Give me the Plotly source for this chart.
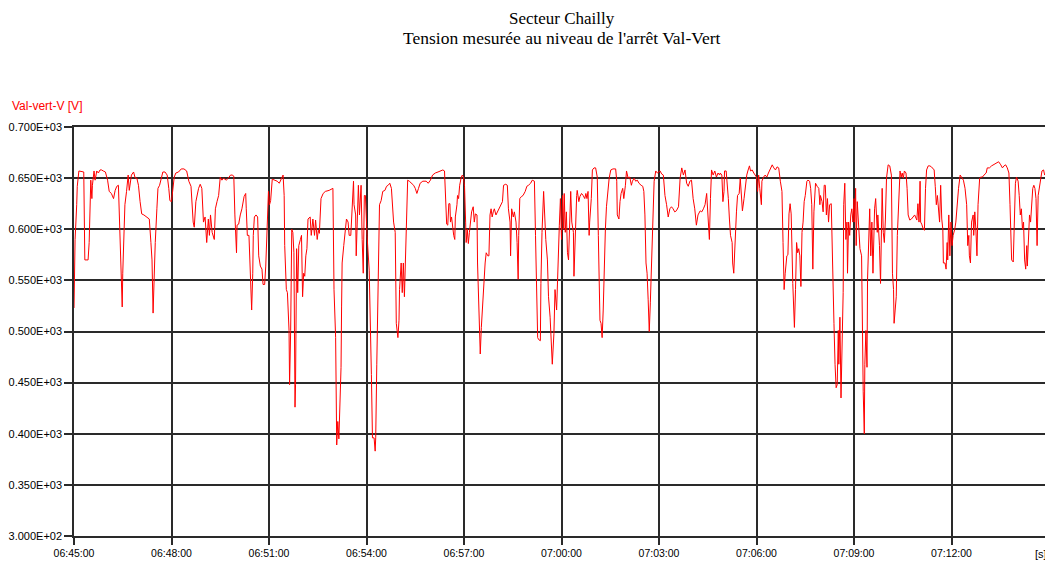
import plotly.graph_objects as go

# elapsed seconds since 06:45:00
seconds = [
    0, 2, 5, 6, 9, 18, 20, 26, 28, 30, 31, 33, 34, 37, 39, 42, 45, 48, 51, 54, 58, 62, 65, 69, 73, 76, 79, 82,
    85, 88, 89, 90, 92, 94, 97, 100, 102, 105, 106, 110, 113, 116, 119, 122, 125, 129, 134, 139, 142, 144, 146,
    148, 150, 153, 155, 158, 160, 164, 168, 172, 175, 177, 180, 182, 185, 188, 193, 198, 203, 208, 212, 216, 218,
    220, 222, 225, 230, 233, 236, 239, 242, 245, 248, 250, 252, 255, 259, 261, 264, 267, 270, 273, 276, 281, 285,
    289,
    292, 295, 297, 300, 301, 304, 307, 310, 314, 317, 318, 320, 323, 326, 328, 330, 331, 333, 336, 339, 341, 344,
    347, 349, 352, 354, 357, 359, 361, 363, 366, 371, 375, 379, 383, 386, 388, 389, 392, 394, 397, 398, 400, 402,
    404, 406, 408, 409, 411, 413, 415, 416, 418, 420, 422, 424, 426, 428, 430, 432, 436, 438, 441, 444, 446, 449,
    451, 453, 456, 460, 464, 471, 476, 478, 480, 483, 485, 487, 489, 491, 493, 494, 495, 498, 500, 503, 506, 508,
    511, 514, 516, 517, 520, 521, 523, 525, 527, 530, 532, 534, 536, 538, 540, 541, 545, 547, 549, 551, 554, 556,
    557, 559, 561, 562, 564, 567, 570, 574, 577, 580, 583, 586, 590, 593, 595, 598, 600,
    601, 604, 606, 608, 610, 612, 614, 616, 619, 623, 627, 630, 633, 636, 639, 644, 650, 654, 658, 662, 667, 672,
    676, 681, 684, 686, 688, 690, 692, 694, 695, 697, 699, 701, 703, 704, 707, 708, 710, 712, 715, 717, 719, 721,
    723, 724, 726, 728, 730, 732, 734, 737, 739, 741, 744, 745, 748, 750, 752, 755, 757, 759, 761, 764, 766, 768,
    770, 772, 774, 776, 779, 782, 785, 789, 791, 793, 797, 800, 802, 805, 806, 808, 811, 813, 816, 818, 820, 821,
    823, 826, 829, 833, 836, 839, 843, 846, 850, 852, 854, 856, 858, 861, 862, 864, 867, 869, 871, 874, 876, 879,
    881, 883, 886, 888, 891, 893, 896, 898,
    899, 900, 902, 904, 905, 907, 909, 911, 913, 915, 917, 919, 922, 923, 925, 928, 929, 932, 934, 937, 940, 943,
    945, 947, 949, 951, 952, 955, 957, 960, 963, 966, 968, 969, 971, 973, 975, 977, 979, 981, 983, 986, 988, 991,
    995, 1000, 1002, 1003, 1006, 1008, 1010, 1013, 1015, 1018, 1020, 1023, 1026, 1029, 1031, 1034, 1037, 1040,
    1043, 1047, 1050, 1052, 1054, 1056, 1058, 1060, 1062, 1064, 1066, 1068, 1071, 1074, 1077, 1082, 1085, 1088,
    1091, 1094, 1097, 1100, 1103, 1106, 1109, 1112, 1116, 1119, 1122, 1125, 1128, 1131, 1134, 1137, 1140, 1143,
    1146, 1149, 1152, 1156, 1159, 1162, 1165, 1168, 1171, 1173, 1175, 1177, 1180, 1183, 1186, 1189, 1192,
    1193, 1196, 1198, 1200, 1201, 1204, 1206, 1208, 1210, 1212, 1215, 1216, 1218, 1221, 1223, 1225, 1228, 1230,
    1232, 1234, 1237, 1239, 1242, 1244, 1247, 1249, 1252, 1255, 1258, 1260, 1262, 1264, 1266, 1269, 1270, 1273,
    1276, 1279, 1282, 1285, 1289, 1292, 1295, 1298, 1301, 1304, 1307, 1309, 1311, 1313, 1316, 1318, 1320, 1322,
    1324, 1327, 1329, 1330, 1332, 1334, 1336, 1338, 1340, 1342, 1344, 1346, 1348, 1350, 1353, 1355, 1358, 1360,
    1362, 1364, 1366, 1369, 1372, 1375, 1377, 1378, 1381, 1383, 1385, 1387, 1389, 1391, 1393, 1395, 1398, 1399,
    1401, 1403, 1405, 1407, 1409, 1411, 1412, 1414, 1416, 1418, 1420, 1421, 1423, 1425, 1427, 1428, 1430, 1432,
    1434, 1436, 1438, 1440, 1441, 1443, 1444, 1446, 1449, 1451, 1454, 1455, 1457, 1459, 1460, 1462, 1464, 1465,
    1467, 1469, 1471, 1473, 1475, 1476, 1478, 1480, 1483, 1484, 1487, 1489, 1491, 1492, 1494, 1496, 1498,
    1500, 1503, 1506, 1509, 1510, 1511, 1513, 1514, 1516, 1518, 1520, 1522, 1524, 1525, 1527, 1529, 1531, 1533,
    1536, 1538, 1540, 1543, 1546, 1549, 1552, 1556, 1558, 1560, 1562, 1563, 1565, 1568, 1570, 1572, 1574, 1577,
    1580, 1583, 1588, 1590, 1592, 1594, 1596, 1598, 1600, 1602, 1604, 1605, 1608, 1610, 1612, 1613, 1615, 1617,
    1619, 1621, 1623, 1626, 1628, 1631, 1633, 1636, 1639, 1642, 1645, 1648, 1650, 1652, 1653, 1655, 1657, 1660,
    1661, 1663, 1665, 1667, 1669, 1671, 1672, 1674, 1677, 1680, 1684, 1686, 1690, 1694, 1698, 1703, 1707, 1711,
    1714, 1717, 1720, 1723, 1726, 1728, 1730, 1731, 1734, 1736, 1738, 1740, 1743, 1745, 1747, 1749, 1751, 1753,
    1755, 1757, 1759, 1760, 1762, 1764, 1766, 1768, 1770, 1772, 1774, 1776, 1778, 1780, 1783, 1785, 1787, 1790,
    1792, 1794, 1795, 1797, 1798, 1799,
]

voltage = [
    523, 590, 624, 642, 657, 656, 570, 570, 587, 630, 648, 630, 643, 657, 648, 657, 655, 658, 658, 657, 656, 648,
    637, 635, 630, 638, 642, 643, 590, 557, 524, 557, 590, 624, 637, 653, 638, 647, 653, 656, 650, 650, 643, 627,
    615, 614, 612, 610, 587, 570, 518, 570, 587, 620, 640, 643, 648, 656, 656, 653, 640, 628, 627, 638, 651, 655,
    656, 659, 659, 657, 647, 642, 624, 607, 602, 627, 640, 644, 640, 607, 612, 587, 610, 594, 614, 597, 590, 620,
    627, 633, 651, 648, 650, 648, 650, 653,
    653, 652, 614, 577, 604, 605, 614, 620, 632, 635, 620, 594, 594, 541, 521, 557, 594, 612, 614, 612, 574, 564,
    561, 546, 546, 564, 607, 637, 624, 628, 649, 648, 647, 645, 650, 653, 633, 584, 541, 538, 501, 448, 501, 600,
    597, 577, 426, 448, 581, 538, 584, 587, 590, 594, 534, 557, 554, 574, 581, 610, 612, 594, 610, 594, 609, 590,
    599, 596, 630, 635, 637, 638, 640, 640, 541, 494, 389, 412, 395, 431, 465, 524, 567, 584, 597, 610, 607, 594,
    594, 624, 647, 624, 614, 574, 604, 643, 614, 643, 590, 557, 633, 633, 607, 594, 560, 520, 458, 396, 396, 383,
    396, 468, 544, 594, 624, 628, 637, 638, 642, 643, 645, 640, 607, 597, 508, 494, 511,
    541, 567, 538, 567, 534, 574, 624, 648, 647, 645, 643, 640, 635, 640, 645, 647, 647, 645, 648, 653, 655, 656,
    657, 658, 657, 620, 605, 604, 625, 625, 607, 612, 600, 594, 590, 612, 624, 633, 630, 643, 651, 653, 651, 642,
    607, 587, 600, 586, 597, 607, 617, 622, 607, 615, 614, 567, 524, 478, 504, 534, 551, 567, 577, 574, 574, 614,
    620, 612, 617, 620, 614, 617, 620, 624, 627, 643, 644, 643, 620, 607, 574, 620, 612, 617, 607, 587, 551, 594,
    630, 632, 633, 637, 642, 643, 645, 648, 647, 594, 547, 494, 492, 491, 547, 597, 637, 607, 590, 570, 534, 514,
    494, 468, 498, 541, 521, 564, 604, 630,
    614, 590, 633, 600, 635, 597, 617, 577, 570, 617, 637, 607, 597, 554, 597, 633, 638, 627, 632, 635, 633, 630,
    635, 630, 637, 594, 607, 630, 658, 660, 660, 651, 594, 551, 511, 508, 494, 521, 567, 600, 622, 640, 650, 658,
    659, 659, 647, 614, 610, 627, 635, 640, 630, 643, 657, 650, 651, 643, 647, 650, 647, 648,
    645, 643, 642, 637, 614, 567, 557, 531, 500, 528, 557, 597, 647, 657, 655, 657, 654, 653,
    633, 624, 612, 620, 622, 620, 617, 618, 622, 650, 660, 653, 658, 645, 642, 647, 648, 630,
    620, 604, 614, 618, 617, 620, 624, 635, 612, 590, 630, 658, 653, 657, 651, 655, 653,
    655, 653, 627, 637, 657, 657, 645, 630, 610, 594, 587, 567, 557, 600, 617, 633, 635, 650,
    627, 618, 630, 640, 653, 657, 662, 657, 658, 655, 653, 651, 637, 653, 640, 624, 647, 651,
    653, 651, 655, 658, 663, 660, 658, 661, 660, 647, 637, 587, 541, 557, 574, 575, 615, 625,
    615, 547, 521, 504, 541, 587, 577, 581, 574, 544, 597, 607, 627, 633, 647, 648, 647, 640,
    624, 561, 617, 645, 642, 640, 624, 633, 627, 617, 643, 643, 614, 630, 607, 624, 625, 597,
    561, 508, 468, 445, 448, 501, 468, 514, 435, 501, 538, 624, 645, 590, 607, 557, 607, 594,
    614, 620, 607, 630, 607, 640, 584, 627, 590, 581, 574, 511, 441, 400, 468, 501, 465, 551,
    594, 620, 574, 607, 557, 590, 620, 630, 597, 614, 584, 547, 627, 640, 597, 587, 610,
    650, 663, 662, 653, 600, 557, 541, 508, 521, 534, 594, 624, 643, 657, 651, 655, 650, 657,
    655, 640, 614, 609, 610, 612, 614, 609, 625, 607, 647, 607, 605, 600, 599, 640, 658, 662,
    662, 661, 658, 642, 624, 633, 620, 607, 643, 610, 600, 567, 567, 561, 587, 570, 614, 574,
    607, 584, 594, 600, 607, 630, 640, 653, 651, 648, 640, 624, 584, 594, 574, 567, 607, 614,
    594, 617, 600, 574, 624, 647, 650, 651, 651, 653, 655, 660, 660, 662, 663, 665, 666, 663,
    660, 662, 663, 660, 655, 624, 590, 570, 568, 614, 645, 651, 647, 633, 614, 620, 600, 607,
    570, 561, 584, 564, 594, 614, 607, 620, 640, 643, 640, 630, 584, 633, 642, 650, 657, 658,
    653, 655, 650, 657, 647, 516,
]

y_ticks = [300, 350, 400, 450, 500, 550, 600, 650, 700]
y_labels = ["3.000E+02", "0.350E+03", "0.400E+03", "0.450E+03", "0.500E+03",
            "0.550E+03", "0.600E+03", "0.650E+03", "0.700E+03"]
x_ticks = [0, 180, 360, 540, 720, 900, 1080, 1260, 1440, 1620, 1800]
x_labels = ["06:45:00", "06:48:00", "06:51:00", "06:54:00", "06:57:00", "07:00:00",
            "07:03:00", "07:06:00", "07:09:00", "07:12:00", ""]

title_lines = ["Secteur Chailly", "Tension mesurée au niveau de l'arrêt Val-Vert"]

fig = go.Figure()
fig.add_trace(go.Scatter(x=seconds, y=voltage, mode="lines",
                         line=dict(color="#ff0000", width=1), showlegend=False,
                         hoverinfo="skip"))

axis_common = dict(
    showgrid=True, gridcolor="#2a2a2a", gridwidth=1.5,
    showline=True, linecolor="#2a2a2a", linewidth=1.5, mirror=True,
    ticks="outside", tickcolor="#2a2a2a", tickwidth=1.5,
    zeroline=False, fixedrange=True, automargin=False,
)

# the page body adds an 8px offset, so the figure is sized to compensate
fig.update_layout(
    width=1045, height=559, autosize=False,
    paper_bgcolor="white", plot_bgcolor="white",
    margin=dict(l=66, r=4, t=119, b=31, autoexpand=False),
    xaxis=dict(range=[0, 1800], tickvals=x_ticks, ticktext=x_labels, ticklen=7,
               tickfont=dict(family="Liberation Sans", size=10.5, color="black"),
               **axis_common),
    yaxis=dict(range=[300, 700], tickvals=y_ticks, ticktext=y_labels, ticklen=8,
               tickfont=dict(family="Liberation Sans", size=11, color="black"),
               **axis_common),
    annotations=[
        dict(text=title_lines[0], xref="paper", yref="paper", x=0.5005, y=1.2665,
             xanchor="center", yanchor="middle", showarrow=False,
             font=dict(family="Liberation Serif", size=17, color="black")),
        dict(text=title_lines[1], xref="paper", yref="paper", x=0.5005, y=1.2164,
             xanchor="center", yanchor="middle", showarrow=False,
             font=dict(family="Liberation Serif", size=17.5, color="black")),
        dict(text="Val-vert-V [V]", xref="paper", yref="paper", x=-0.0656, y=1.051,
             xanchor="left", yanchor="middle", showarrow=False,
             font=dict(family="Liberation Sans", size=12, color="#ff0000")),
        dict(text="[s]", xref="x", yref="paper", x=1800, y=-0.025,
             xanchor="right", yanchor="top", showarrow=False,
             font=dict(family="Liberation Sans", size=11, color="black")),
    ],
)

fig.write_html("out.html")
